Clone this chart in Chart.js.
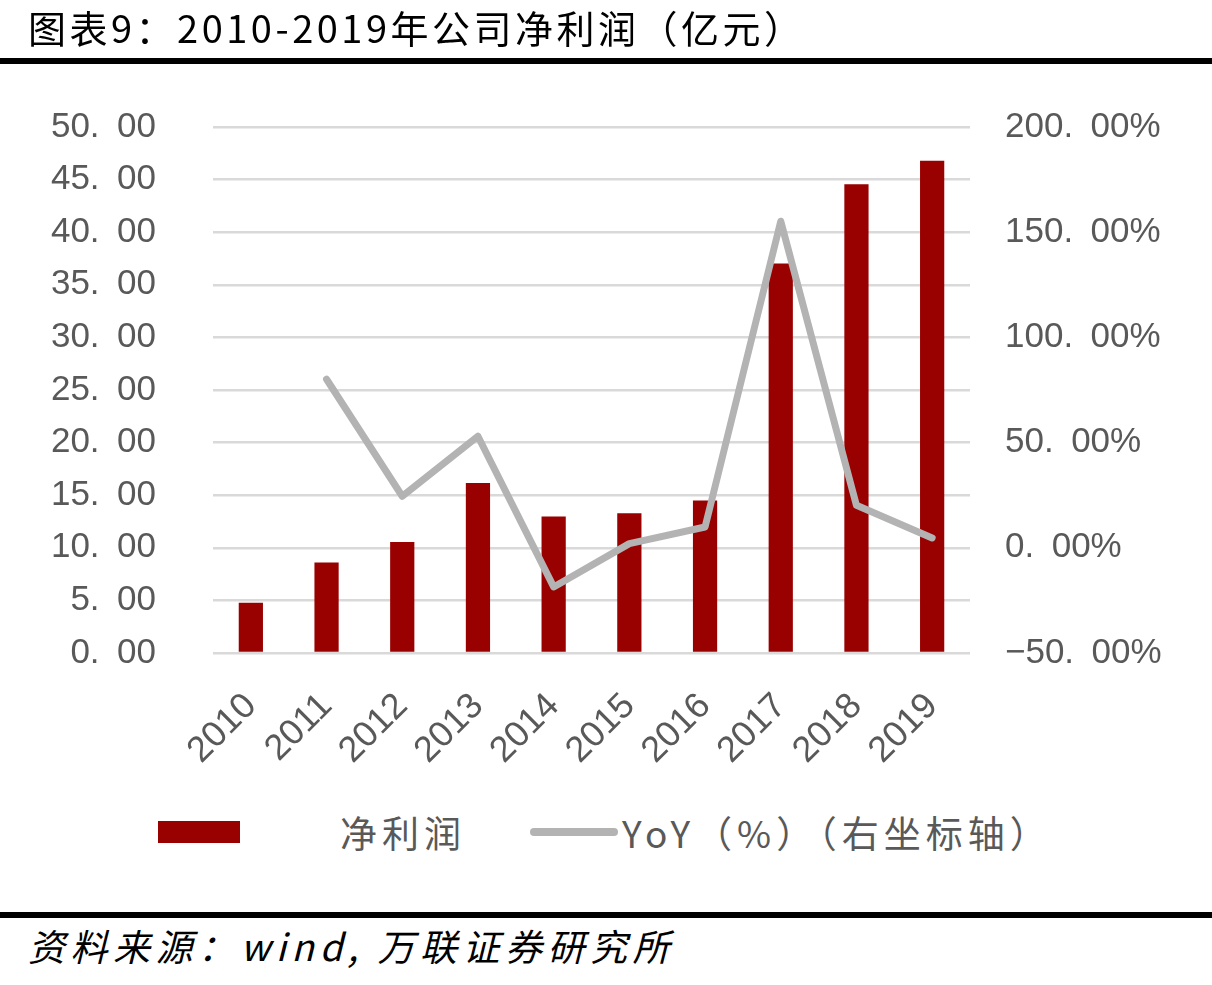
<!DOCTYPE html>
<html>
<head>
<meta charset="utf-8">
<script src="https://cdn.jsdelivr.net/npm/chart.js@4/dist/chart.umd.min.js"></script>
<style>
  body { margin: 0; background: #fff; }
  #wrap { position: relative; width: 1212px; height: 985px; overflow: hidden; font-family: "Noto Sans CJK SC", sans-serif; }
  #chart { position: absolute; left: 0; top: 0; }
  .title { position: absolute; left: 28px; top: 2px; font-size: 38px; line-height: 50px; letter-spacing: 3.5px; color: #000; white-space: nowrap; }
  .rule { position: absolute; left: 0; width: 1212px; background: #000; }
  .leg-txt { position: absolute; font-size: 37px; line-height: 50px; letter-spacing: 5px; color: #595959; white-space: nowrap; }
  .source { position: absolute; left: 28px; top: 920px; font-size: 37px; line-height: 50px; letter-spacing: 5.5px; font-style: italic; color: #000; white-space: nowrap; }
</style>
</head>
<body>
<div id="wrap">
  <canvas id="chart" width="1212" height="800"></canvas>
  <div class="title">图表9：2010-2019年公司净利润（亿元）</div>
  <div class="rule" style="top:58px;height:6px"></div>

  <div style="position:absolute;left:158px;top:821px;width:82px;height:22px;background:#990000"></div>
  <div class="leg-txt" style="left:340px;top:807px">净利润</div>
  <div style="position:absolute;left:530px;top:828px;width:88px;height:8px;border-radius:4px;background:#b3b3b3"></div>
  <div class="leg-txt" style="left:622px;top:807px">YoY（%）（右坐标轴）</div>

  <div class="rule" style="top:912px;height:6px"></div>
  <div class="source">资料来源：wind, 万联证券研究所</div>
</div>
<script>
// 数据
const years = ['2010', '2011', '2012', '2013', '2014', '2015', '2016', '2017', '2018', '2019'];
const netProfit = [4.77, 8.6, 10.56, 16.16, 12.97, 13.28, 14.49, 37.03, 44.55, 46.8];
const yoy = [null, 80.1, 24.5, 53.0, -18.6, 2.0, 9.9, 155.2, 20.2, 4.7];

const leftTicks = { min: 0, max: 50, step: 5 };
const rightTicks = { min: -50, max: 200, step: 50 };

const grey = '#595959';
const numFont = { family: 'Liberation Sans', size: 35 };

function fmt(v) {
    const s = Math.abs(v).toFixed(2).replace('.', '.\u2002');
    return (v < 0 ? '\u2212' : '') + s;
}

const ctx = document.getElementById('chart').getContext('2d');
new Chart(ctx, {
    data: {
        labels: years,
        datasets: [
            {
                type: 'line',
                label: 'YoY（%）（右坐标轴）',
                data: yoy,
                yAxisID: 'y2',
                borderColor: '#b3b3b3',
                borderWidth: 7,
                borderCapStyle: 'round',
                borderJoinStyle: 'round',
                pointRadius: 0,
                fill: false,
                tension: 0,
                order: 0
            },
            {
                type: 'bar',
                label: '净利润',
                data: netProfit,
                yAxisID: 'y',
                backgroundColor: '#990000',
                categoryPercentage: 1,
                barPercentage: 0.32,
                order: 1
            }
        ]
    },
    options: {
        responsive: false,
        animation: false,
        devicePixelRatio: 1,
        layout: { padding: { top: 127, left: 0, right: 0, bottom: 0 } },
        plugins: {
            legend: { display: false },
            title: { display: false },
            tooltip: { enabled: false }
        },
        scales: {
            x: {
                grid: { display: false, drawTicks: false },
                border: { display: false },
                ticks: {
                    color: grey,
                    font: { family: 'Liberation Sans', size: 36 },
                    minRotation: 45,
                    maxRotation: 45,
                    autoSkip: false,
                    padding: 32
                },
                afterFit: s => { s.height = 147; }
            },
            y: {
                position: 'left',
                min: leftTicks.min,
                max: leftTicks.max,
                grid: { color: '#d9d9d9', lineWidth: 2.5, drawTicks: false },
                border: { display: false },
                ticks: {
                    stepSize: leftTicks.step,
                    color: grey,
                    font: numFont,
                    padding: 57,
                    callback: v => fmt(v)
                },
                afterFit: s => { s.width = 213; }
            },
            y2: {
                position: 'right',
                min: rightTicks.min,
                max: rightTicks.max,
                grid: { display: false, drawTicks: false },
                border: { display: false },
                ticks: {
                    stepSize: rightTicks.step,
                    color: grey,
                    font: numFont,
                    padding: 35,
                    callback: v => fmt(v) + '%'
                },
                afterFit: s => { s.width = 242; }
            }
        }
    }
});
</script>
</body>
</html>
